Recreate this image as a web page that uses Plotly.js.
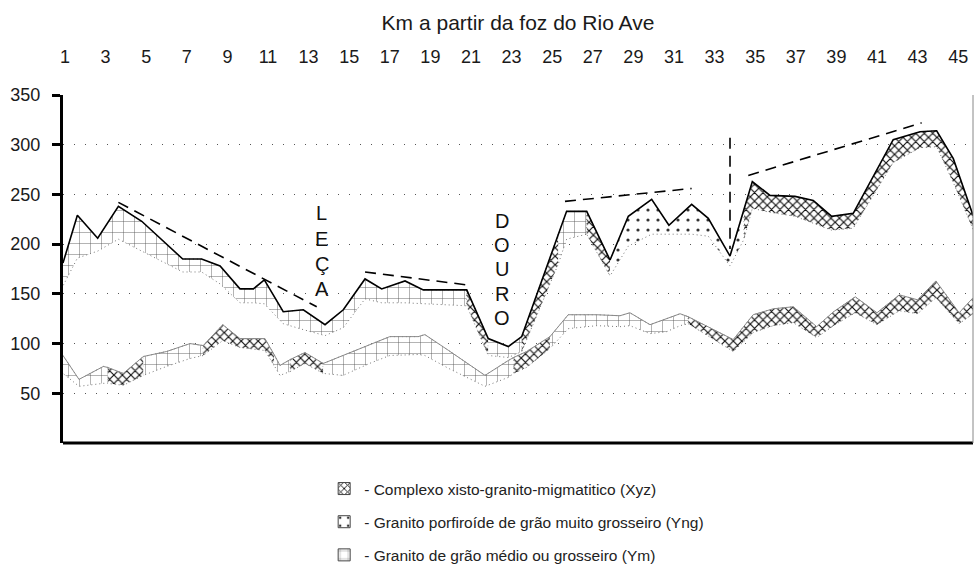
<!DOCTYPE html>
<html>
<head>
<meta charset="utf-8">
<script src="https://cdn.plot.ly/plotly-3.0.1.min.js"></script>
<style>html,body{margin:0;padding:0;background:#fff;}#chart{width:975px;height:569px;}</style>
</head>
<body>
<div id="chart"></div>
<script>
// ---- Data (km from the mouth of Rio Ave, altitude in m) ----
const tickKm = [1,3,5,7,9,11,13,15,17,19,21,23,25,27,29,31,33,35,37,39,41,43,45];

// Upper profile (solid line) and lower limit of its geological band
const upperKm  = [0.9, 1.61, 2.61, 3.63, 4.78, 6.80, 7.73, 8.64, 9.62, 10.28, 10.82, 11.75, 12.74, 13.81, 14.71, 15.78, 16.60, 17.75, 18.65, 20.79, 21.85, 22.84, 23.50, 25.30, 25.71, 26.70, 27.85, 28.75, 29.90, 30.75, 31.87, 32.69, 33.76, 34.45, 34.86, 35.73, 36.96, 37.86, 38.77, 39.83, 41.80, 43.12, 43.94, 44.76, 45.73];
const upperTop = [181, 229, 206, 238, 223, 185, 185, 178, 155, 155, 164, 132, 134, 119, 134, 165, 155, 163, 154, 154, 105, 97, 107, 210, 233, 233, 184, 228, 245, 219, 240, 226, 188, 235, 263, 249, 248, 244, 228, 231, 305, 313, 314, 286, 229];
const upperBase= [158, 186, 193, 205, 193, 172, 172, 160, 141, 141, 140, 120, 114, 108, 116, 145, 141, 141, 140, 138, 88, 86, 92, 180, 205, 210, 168, 198, 210, 210, 210, 208, 178, 205, 236, 232, 228, 221, 214, 216, 282, 297, 298, 262, 215];
const upperGeo = ['Ym','Ym','Ym','Ym','Ym','Ym','Ym','Ym','Ym','Ym','Ym','Ym','Ym','Ym','Ym','Ym','Ym','Ym','Ym','Xyz','Ym','Ym','Xyz','Ym','Ym','Xyz','Yng','Yng','Yng','Yng','Yng','Yng','Yng','Xyz','Xyz','Xyz','Xyz','Xyz','Xyz','Xyz','Xyz','Xyz','Xyz','Xyz','Xyz'];

// Lower profile (thin grey line) and lower limit of its band
const lowerKm  = [0.9, 1.69, 2.89, 3.10, 3.87, 4.86, 6.00, 7.16, 7.81, 8.77, 9.62, 10.85, 11.30, 11.59, 12.10, 12.82, 13.72, 14.70, 16.00, 17.00, 18.40, 18.73, 19.90, 21.69, 22.84, 23.10, 23.74, 24.89, 25.79, 27.19, 28.34, 28.83, 29.82, 30.64, 31.30, 31.70, 33.92, 34.90, 35.89, 36.88, 38.03, 38.86, 39.93, 41.00, 42.10, 43.00, 43.90, 45.05, 45.73];
const lowerTop = [88, 64, 77, 76, 70, 87, 92, 100, 98, 119, 105, 105, 89, 78, 84, 91, 80, 88, 99, 107, 107, 109, 93, 68, 83, 86, 92, 107, 129, 129, 128, 131, 119, 125, 130, 127, 104, 129, 135, 137, 117, 132, 147, 131, 149, 144, 163, 131, 146];
const lowerBase= [70, 57, 60, 60, 58, 68, 77, 85, 88, 103, 96, 93, 78, 68, 72, 80, 70, 68, 80, 88, 89, 88, 75, 57, 66, 70, 76, 95, 115, 118, 117, 118, 110, 112, 118, 120, 92, 111, 118, 121, 106, 118, 131, 119, 133, 130, 146, 120, 130];
const lowerGeo = ['Ym','Ym','Ym','Xyz','Xyz','Ym','Ym','Ym','Xyz','Xyz','Xyz','Xyz','Ym','Ym','Xyz','Xyz','Ym','Ym','Ym','Ym','Ym','Ym','Ym','Ym','Ym','Xyz','Xyz','Ym','Ym','Ym','Ym','Ym','Ym','Ym','Ym','Xyz','Xyz','Xyz','Xyz','Xyz','Xyz','Xyz','Xyz','Xyz','Xyz','Xyz','Xyz','Xyz','Xyz'];

// Dashed trend lines
const trendA_x = [3.63, 13.4],  trendA_y = [242, 137];
const trendB_x = [15.78, 20.79], trendB_y = [172, 159];
const trendC_x = [25.63, 31.87], trendC_y = [243, 256];
const trendD_x = [33.76, 33.76], trendD_y = [307, 195];
const trendE_x = [34.66, 43.2],  trendE_y = [269, 322];

// Legend
const geoKeys   = ['Xyz', 'Yng', 'Ym'];
const geoLabels = ['- Complexo xisto-granito-migmatitico (Xyz)', '- Granito porfiroíde de grão muito grosseiro (Yng)', '- Granito de grão médio ou grosseiro (Ym)'];

// River labels
const lecaLetters  = ['L','E','Ç','A'];
const lecaY        = [231, 205, 180, 155];
const douroLetters = ['D','O','U','R','O'];
const douroY       = [223, 199, 175, 150, 126];

// ---- Styles ----
const FONT = 'Arial, "Liberation Sans", sans-serif';
const patterns = {
  Xyz: {shape: 'x', size: 6, solidity: 0.35, fgcolor: '#111', bgcolor: '#fff'},
  Yng: {shape: '.', size: 10, solidity: 0.08, fgcolor: '#333', bgcolor: '#fff'},
  Ym:  {shape: '+', size: 11, solidity: 0.08, fgcolor: '#555', bgcolor: '#fff'}
};

function runs(geo) {
  const out = []; let s = 0;
  for (let i = 1; i < geo.length; i++) {
    if (geo[i] !== geo[s] || i === geo.length - 1) { out.push([s, i, geo[s]]); s = i; }
  }
  return out;
}
function bandTraces(xs, tops, bases, geo) {
  return runs(geo).map(([a, b, g]) => {
    const xx = xs.slice(a, b + 1), tt = tops.slice(a, b + 1), bb = bases.slice(a, b + 1);
    return {
      type: 'scatter', mode: 'lines', x: xx.concat(xx.slice().reverse()), y: tt.concat(bb.slice().reverse()),
      fill: 'toself', fillcolor: '#fff', fillpattern: patterns[g],
      line: {color: '#777', width: 1, dash: '1px,3px'}, showlegend: false, hoverinfo: 'skip'
    };
  });
}

const data = [];
geoKeys.forEach((g, i) => {
  data.push({type: 'bar', x: [null], y: [null], name: geoLabels[i], legendgroup: g,
    marker: {color: '#fff', pattern: patterns[g], line: {color: '#444', width: 1}}, hoverinfo: 'skip'});
});
bandTraces(upperKm, upperTop, upperBase, upperGeo).forEach(t => data.push(t));
bandTraces(lowerKm, lowerTop, lowerBase, lowerGeo).forEach(t => data.push(t));
data.push({type: 'scatter', mode: 'lines', x: lowerKm, y: lowerTop, line: {color: '#8a8a8a', width: 1}, showlegend: false, hoverinfo: 'skip'});
data.push({type: 'scatter', mode: 'lines', x: upperKm, y: upperTop, line: {color: '#000', width: 1.6}, showlegend: false, hoverinfo: 'skip'});
[[trendA_x, trendA_y], [trendB_x, trendB_y], [trendC_x, trendC_y], [trendD_x, trendD_y], [trendE_x, trendE_y]].forEach(([x, y]) => {
  data.push({type: 'scatter', mode: 'lines', x: x, y: y, line: {color: '#000', width: 1.6, dash: '11px,7px'}, showlegend: false, hoverinfo: 'skip'});
});

const annotations = [];
lecaLetters.forEach((c, i) => annotations.push({x: 13.64, y: lecaY[i], xref: 'x', yref: 'y', text: c, showarrow: false, font: {family: FONT, size: 20, color: '#111'}}));
douroLetters.forEach((c, i) => annotations.push({x: 22.51, y: douroY[i], xref: 'x', yref: 'y', text: c, showarrow: false, font: {family: FONT, size: 20, color: '#111'}}));

const layout = {
  width: 975, height: 569,
  margin: {l: 63, r: 2, t: 95, b: 126},
  paper_bgcolor: '#fff', plot_bgcolor: 'rgba(0,0,0,0)',
  font: {family: FONT, color: '#1a1a1a'},
  showlegend: true, hovermode: false,
  xaxis: {
    type: 'linear', side: 'top', range: [0.9015, 45.73],
    tickvals: tickKm, ticktext: tickKm.map(String), ticks: '', ticklabelstandoff: 27,
    tickfont: {size: 18}, showgrid: false, zeroline: false, showline: false,
    title: {text: 'Km a partir da foz do Rio Ave', font: {size: 21}, standoff: 11}
  },
  yaxis: {
    range: [0, 350], tickvals: [50,100,150,200,250,300,350], ticks: 'outside', ticklen: 8, tickwidth: 3, tickcolor: '#000',
    ticklabelstandoff: 8, tickfont: {size: 18},
    showline: true, linewidth: 3, linecolor: '#000', zeroline: false,
    showgrid: true, gridcolor: '#555', gridwidth: 1, griddash: '1px,10px'
  },
  shapes: [
    {type: 'line', xref: 'paper', yref: 'paper', x0: 0, x1: 1, y0: 0, y1: 0, line: {color: '#000', width: 3}},
    {type: 'line', xref: 'paper', yref: 'paper', x0: 1, x1: 1, y0: 0, y1: 1, line: {color: '#888', width: 1}}
  ],
  legend: {x: 0.287, xanchor: 'left', yref: 'container', y: 0.1705, yanchor: 'top', traceorder: 'grouped', tracegroupgap: 10,
    font: {size: 15.5, color: '#222'}, bgcolor: 'rgba(0,0,0,0)'},
  annotations: annotations
};

Plotly.newPlot('chart', data, layout, {displayModeBar: false, staticPlot: true});
</script>
</body>
</html>
